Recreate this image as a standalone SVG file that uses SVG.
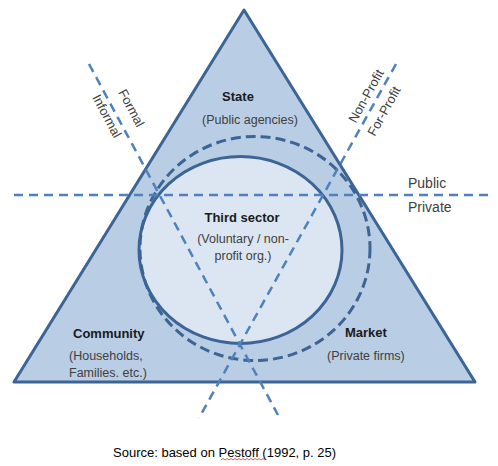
<svg xmlns="http://www.w3.org/2000/svg" width="498" height="466" viewBox="0 0 498 466">
<style>
.lbl{font-family:"Liberation Sans",Arial,sans-serif;font-size:13px;font-weight:bold;fill:#1a1a1a}
.sub{font-family:"Liberation Sans",Arial,sans-serif;font-size:12.5px;fill:#404040}
.ax{font-family:"Liberation Sans",Arial,sans-serif;font-size:13px;fill:#404040}
.dash{fill:none;stroke:#4f81bd;stroke-width:2.5;stroke-dasharray:9 6}
</style>
<rect width="498" height="466" fill="#ffffff"/>
<g id="triangle">
<polygon points="244,10 14,382 475,382" fill="#b9cde5" stroke="#3c6494" stroke-width="3" stroke-linejoin="round"/>
</g>
<g id="third-sector-circle">
<ellipse cx="240.5" cy="250" rx="101.5" ry="93.5" fill="#dce6f2" stroke="#3c6494" stroke-width="3"/>
</g>
<g id="dashed-circle">
<ellipse cx="255" cy="248.5" rx="115" ry="112" fill="none" stroke="#3c6494" stroke-width="3" stroke-dasharray="10 5"/>
</g>
<g id="connectors">
<line class="dash" x1="14" y1="195" x2="490" y2="195"/>
<line class="dash" x1="89" y1="64" x2="278" y2="415"/>
<line class="dash" x1="396" y1="64" x2="199" y2="418"/>
</g>
<g id="state">
<text class="lbl" x="238" y="101" text-anchor="middle">State</text>
<text class="sub" x="250" y="124" text-anchor="middle">(Public agencies)</text>
</g>
<g id="third-sector">
<text class="lbl" x="242" y="222" text-anchor="middle">Third sector</text>
<text class="sub" x="243" y="243" text-anchor="middle">(Voluntary / non-</text>
<text class="sub" x="243" y="260" text-anchor="middle">profit org.)</text>
</g>
<g id="community">
<text class="lbl" x="73" y="338">Community</text>
<text class="sub" x="69" y="360">(Households,</text>
<text class="sub" x="69" y="377">Families. etc.)</text>
</g>
<g id="market">
<text class="lbl" x="345" y="337">Market</text>
<text class="sub" x="327" y="360">(Private firms)</text>
</g>
<g id="axis-labels">
<text class="ax" transform="translate(131.5,108) rotate(62)" text-anchor="middle" dy="0.35em">Formal</text>
<text class="ax" transform="translate(107,116) rotate(62)" text-anchor="middle" dy="0.35em">Informal</text>
<text class="ax" transform="translate(366,96) rotate(-61)" text-anchor="middle" dy="0.35em">Non-Profit</text>
<text class="ax" transform="translate(384,111) rotate(-61)" text-anchor="middle" dy="0.35em">For-Profit</text>
<text class="ax" x="408" y="188" style="font-size:14px">Public</text>
<text class="ax" x="408" y="212" style="font-size:14px">Private</text>
</g>
<g id="source">
<text x="113" y="457" style="font-family:'Liberation Sans',Arial,sans-serif;font-size:13px;fill:#000">Source: based on Pestoff (1992, p. 25)</text>
<path d="M221,460 l2,-1.5 l2,1.5 l2,-1.5 l2,1.5 l2,-1.5 l2,1.5 l2,-1.5 l2,1.5 l2,-1.5 l2,1.5 l2,-1.5 l2,1.5 l2,-1.5 l2,1.5 l2,-1.5 l2,1.5 l2,-1.5 l2,1.5 l2,-1.5 l2,1.5 l2,-1.5 l2,1.5" fill="none" stroke="#e03030" stroke-width="0.8"/>
</g>
</svg>
